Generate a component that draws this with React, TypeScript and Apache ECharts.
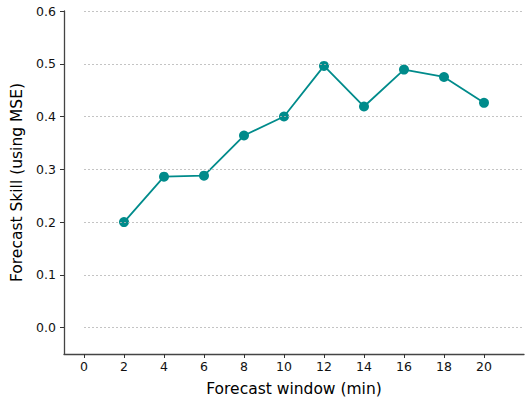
import React, { useEffect, useRef } from "react";
import * as echarts from "echarts";

const windows = [2, 4, 6, 8, 10, 12, 14, 16, 18, 20];
const skill = [0.2, 0.286, 0.288, 0.364, 0.4, 0.496, 0.419, 0.489, 0.475, 0.426];
const xTicks = [0, 2, 4, 6, 8, 10, 12, 14, 16, 18, 20];
const yTicks = [0, 0.1, 0.2, 0.3, 0.4, 0.5, 0.6];

const FONT = "DejaVu Sans";
const TEAL = "#008b8b";

export default function App() {
  const ref = useRef<HTMLDivElement>(null);

  useEffect(() => {
    if (!ref.current) return;
    const chart = echarts.init(ref.current, undefined, { renderer: "svg" });

    const axisLine = { show: true, onZero: false, lineStyle: { color: "#444", width: 1.3 } };

    chart.setOption({
      animation: false,
      textStyle: { fontFamily: FONT },
      grid: {
        left: 64,
        right: 3,
        top: 11,
        bottom: 45,
        containLabel: false,
        outerBoundsMode: "none",
      },
      xAxis: {
        type: "value",
        min: -1,
        max: 22,
        name: "Forecast window (min)",
        nameLocation: "middle",
        nameGap: 27,
        nameTextStyle: { fontFamily: FONT, fontSize: 15.5, color: "#000" },
        axisLine,
        axisTick: {
          show: true,
          customValues: xTicks,
          length: 4,
          inside: false,
          lineStyle: { color: "#333", width: 1 },
        },
        axisLabel: {
          customValues: xTicks,
          fontFamily: FONT,
          fontSize: 12.5,
          color: "#111",
          margin: 6,
        },
        splitLine: { show: false },
      },
      yAxis: {
        type: "value",
        min: -0.05,
        max: 0.6,
        name: "Forecast Skill (using MSE)",
        nameLocation: "middle",
        nameGap: 33,
        nameTextStyle: { fontFamily: FONT, fontSize: 15.5, color: "#000" },
        axisLine,
        axisTick: {
          show: true,
          customValues: yTicks,
          length: 4,
          inside: false,
          lineStyle: { color: "#333", width: 1 },
        },
        axisLabel: {
          customValues: yTicks,
          fontFamily: FONT,
          fontSize: 12.5,
          color: "#111",
          margin: 8,
          formatter: (v: number) => v.toFixed(1),
        },
        splitLine: { show: false },
      },
      series: [
        {
          type: "line",
          data: [],
          silent: true,
          markLine: {
            silent: true,
            symbol: "none",
            label: { show: false },
            lineStyle: { color: "#b5b5b5", type: [2, 2], width: 0.8 },
            data: yTicks.map((v) => [
              { coord: [0, v] },
              { coord: [22, v] },
            ]),
          },
          z: 1,
        },
        {
          type: "line",
          data: windows.map((w, i) => [w, skill[i]]),
          symbol: "circle",
          symbolSize: 10,
          lineStyle: { color: TEAL, width: 1.8 },
          itemStyle: { color: TEAL },
          z: 3,
        },
      ],
    });

    return () => chart.dispose();
  }, []);

  return <div ref={ref} style={{ width: 527, height: 399, position: "absolute", left: 0, top: 0 }} />;
}
